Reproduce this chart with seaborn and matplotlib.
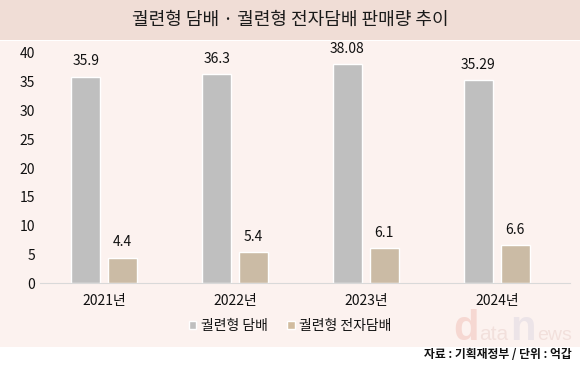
import pandas as pd
import seaborn as sns
import matplotlib.pyplot as plt
from matplotlib.patches import Rectangle

years = ['2021년', '2022년', '2023년', '2024년']
cigarette = [35.9, 36.3, 38.08, 35.29]
e_cigarette = [4.4, 5.4, 6.1, 6.6]
series_names = ['궐련형 담배', '궐련형 전자담배']
colors = ['#bfbfbf', '#d1bc9f']

df = pd.DataFrame({
    'year': years * 2,
    'value': cigarette + e_cigarette,
    'kind': [series_names[0]] * 4 + [series_names[1]] * 4,
})

sns.set_style('white')
plt.rcParams['font.family'] = ['Noto Sans CJK KR', 'DejaVu Sans']

fig = plt.figure(figsize=(5.8, 3.74), dpi=100)
fig.patch.set_facecolor('white')
# background bands
fig.patches.append(Rectangle((0, 0.893), 1, 0.107, transform=fig.transFigure,
                             facecolor='#f0ddd6', edgecolor='none', zorder=-2))
fig.patches.append(Rectangle((0, 0.072), 1, 0.818, transform=fig.transFigure,
                             facecolor='#fcf2ef', edgecolor='none', zorder=-2))

ax = fig.add_axes([0.069, 0.2433, 0.914, 0.615])
ax.set_facecolor('none')
sns.barplot(data=df, x='year', y='value', hue='kind', palette=colors,
            width=0.565, gap=0.22, errorbar=None, ax=ax, legend=False)

ax.set_ylim(0, 40)
ax.set_xlim(-0.49, 3.56)
ax.set_yticks(range(0, 41, 5))
ax.set_xlabel('')
ax.set_ylabel('')
ax.tick_params(axis='both', length=0, labelsize=10, colors='#111111')
ax.tick_params(axis='x', pad=8)
for s in ['top', 'right', 'left']:
    ax.spines[s].set_visible(False)
ax.spines['bottom'].set_color('#d9d9d9')

labels = [cigarette, e_cigarette]
for cont, vals in zip(ax.containers, labels):
    for bar, v in zip(cont, vals):
        txt = ('%g' % v) if v != 38.08 else '38.08'
        ax.annotate(txt, (bar.get_x() + bar.get_width() / 2, bar.get_height()),
                    xytext=(0, 11), textcoords='offset points', ha='center',
                    va='center', fontsize=10, color='#111111',
                    annotation_clip=False)

fig.text(0.5, 0.947, '궐련형 담배 · 궐련형 전자담배 판매량 추이', ha='center',
         va='center', fontsize=13, color='#1a1a1a')

# legend
handles = [Rectangle((0, 0), 1, 1, facecolor=c) for c in colors]
leg = fig.legend(handles, series_names, loc='center', bbox_to_anchor=(0.5, 0.128),
                 ncol=2, frameon=False, fontsize=10, handlelength=0.55,
                 handleheight=0.55, handletextpad=0.3, columnspacing=1.4)
for t in leg.get_texts():
    t.set_color('#111111')

# watermark
wm_y = 0.092
wm = 'Liberation Sans'
fig.text(453 / 580, wm_y, 'd', ha='left', va='baseline', fontsize=30,
         fontweight='bold', color='#f6d8d2', family=wm)
fig.text(479 / 580, wm_y, 'ata', ha='left', va='baseline', fontsize=15,
         color='#f2e0dc', family=wm)
fig.text(510 / 580, wm_y, 'n', ha='left', va='baseline', fontsize=30,
         fontweight='bold', color='#ece4e8', family=wm)
fig.text(537 / 580, wm_y, 'ews', ha='left', va='baseline', fontsize=14,
         color='#f2e0dc', family=wm)

fig.text(0.985, 0.052, '자료 : 기획재정부 / 단위 : 억갑', ha='right', va='center',
         fontsize=8.5, fontweight='bold', color='#111111')

fig.savefig('out.png', dpi=100)
